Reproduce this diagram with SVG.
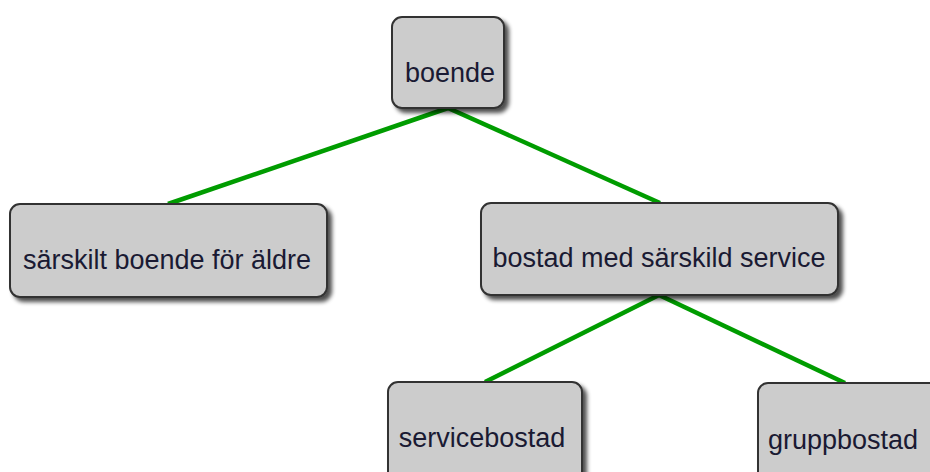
<svg xmlns="http://www.w3.org/2000/svg" width="930" height="472" viewBox="0 0 930 472">
<defs>
<filter id="sh" x="-10%" y="-10%" width="130%" height="140%">
<feGaussianBlur in="SourceAlpha" stdDeviation="2"/>
<feOffset dx="4" dy="4" result="b"/>
<feComponentTransfer><feFuncA type="linear" slope="0.7"/></feComponentTransfer>
<feMerge><feMergeNode/><feMergeNode in="SourceGraphic"/></feMerge>
</filter>
</defs>
<style>
.box{fill:#cccccc;stroke:#333333;stroke-width:2;filter:url(#sh)}
.t{font-family:"Liberation Sans",Arial,sans-serif;font-size:27px;fill:#1a1a33;text-anchor:middle}
.c{stroke:#009c00;stroke-width:4.5;fill:none}
</style>
<rect width="930" height="472" fill="#ffffff"/>
<g id="connectors">
<line class="c" x1="448" y1="108" x2="168" y2="204"/>
<line class="c" x1="448" y1="108" x2="660" y2="203"/>
<line class="c" x1="659" y1="295" x2="485" y2="382"/>
<line class="c" x1="659" y1="295" x2="845" y2="383"/>
</g>
<g id="boende"><rect class="box" x="392" y="17" width="112" height="91" rx="10"/><text class="t" x="450" y="82">boende</text></g>
<g id="sarskilt"><rect class="box" x="10" y="204" width="317" height="93" rx="10"/><text class="t" x="167" y="269">särskilt boende för äldre</text></g>
<g id="bostad"><rect class="box" x="481" y="203" width="357" height="92" rx="10"/><text class="t" x="659" y="267">bostad med särskild service</text></g>
<g id="servicebostad"><rect class="box" x="388" y="382" width="194" height="100" rx="10"/><text class="t" x="482" y="447">servicebostad</text></g>
<g id="gruppbostad"><rect class="box" x="758" y="383" width="190" height="100" rx="10"/><text class="t" x="843" y="449">gruppbostad</text></g>
</svg>
